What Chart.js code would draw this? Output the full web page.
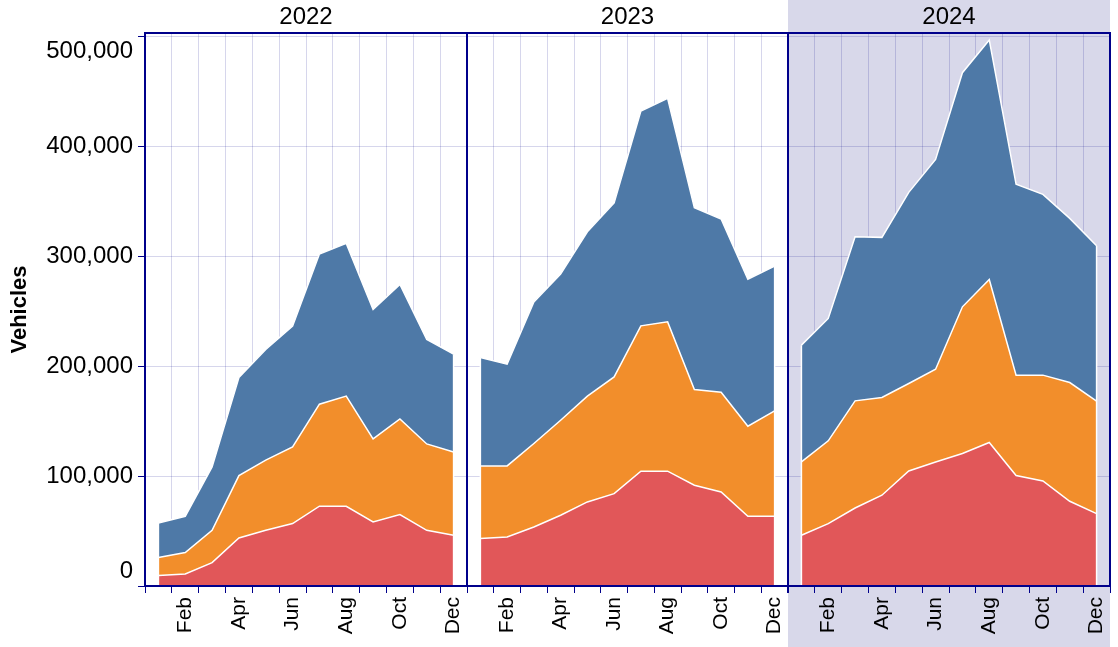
<!DOCTYPE html>
<html lang="en">
<head>
<meta charset="UTF-8" />
<title>Vehicles per month</title>
<script src="https://cdn.jsdelivr.net/npm/chart.js"></script>
<style>
  body { margin: 0; background: #fff; }
  #wrap { position: relative; width: 1118px; height: 647px; overflow: hidden; }
  #wrap canvas { position: absolute; top: 0; }
  #shade { position: absolute; left: 788px; top: 0; width: 322px; height: 647px; background: #d8d8ea; }
</style>
</head>
<body>
<div id="wrap">
  <div id="shade"></div>
  <canvas id="c2022" width="468" height="647" style="left:0"></canvas>
  <canvas id="c2023" width="323" height="647" style="left:466px"></canvas>
  <canvas id="c2024" width="325" height="647" style="left:787px"></canvas>
</div>

<script>
  const months = ['Jan', 'Feb', 'Mar', 'Apr', 'May', 'Jun', 'Jul', 'Aug', 'Sep', 'Oct', 'Nov', 'Dec'];
  const yTickValues = [0, 100000, 200000, 300000, 400000, 500000];
  const yTop = 503300;

  // monthly counts per layer, bottom to top
  const lower2022  = [9500, 10900, 21300, 43700, 50700, 56800, 72600, 72600, 58300, 65000, 50700, 46200];
  const middle2022 = [16400, 19500, 29400, 56800, 63800, 69800, 92900, 100200, 75600, 87100, 78600, 75800];
  const upper2022  = [31500, 33100, 57700, 89300, 100800, 109900, 136600, 139000, 117800, 122400, 95100, 89000];

  const lower2023  = [43200, 44600, 53700, 64400, 76500, 84100, 104500, 104500, 91700, 85600, 63500, 63500];
  const middle2023 = [66100, 64700, 76000, 86500, 96300, 106200, 132300, 135900, 87200, 90800, 81900, 95900];
  const upper2023  = [98700, 92600, 128900, 133000, 149600, 158500, 195500, 203500, 165300, 157600, 133900, 131700];

  const lower2024  = [46200, 56800, 71000, 82600, 104700, 112900, 120600, 130600, 100500, 95600, 77100, 65900];
  const middle2024 = [66700, 75300, 97500, 89000, 79600, 84400, 133500, 148400, 91400, 96300, 108100, 102300];
  const upper2024  = [106300, 111400, 149300, 145700, 174000, 191000, 213100, 218000, 173700, 164500, 149400, 141400];

  const NAVY = '#00008b';
  const GRID = 'rgba(0, 0, 139, 0.16)';
  const FONT = "'Liberation Sans', Arial, sans-serif";

  // dark blue box round each panel
  const framePlugin = {
    id: 'frame',
    afterDraw(chart) {
      const { ctx, chartArea: a } = chart;
      ctx.save();
      ctx.strokeStyle = NAVY;
      ctx.lineWidth = 2;
      ctx.strokeRect(a.left, a.top, a.right - a.left, a.bottom - a.top);
      ctx.restore();
    }
  };

  // white outline on the two vertical sides of the stack
  const edgePlugin = {
    id: 'edges',
    afterDatasetsDraw(chart) {
      const pts = chart.getDatasetMeta(chart.data.datasets.length - 1).data;
      const y0 = chart.scales.y.getPixelForValue(0);
      const ctx = chart.ctx;
      ctx.save();
      ctx.strokeStyle = '#ffffff';
      ctx.lineWidth = 1.5;
      ctx.beginPath();
      [pts[0], pts[pts.length - 1]].forEach(p => {
        ctx.moveTo(p.x, y0);
        ctx.lineTo(p.x, p.y);
      });
      ctx.stroke();
      ctx.restore();
    }
  };

  function layer(label, data, color, fill) {
    return {
      label, data, fill,
      backgroundColor: color,
      borderColor: '#ffffff',
      borderWidth: 1.5,
      pointRadius: 0,
      tension: 0
    };
  }

  function yLabel(value) {
    const txt = value.toLocaleString('en-US');
    // first and last labels sit inside the axis range
    if (value === yTickValues[0]) return [txt, ''];
    if (value === yTickValues[yTickValues.length - 1]) return ['', txt];
    return txt;
  }

  function makePanel(id, year, lower, middle, upper, showY, padLeft, padRight) {
    return new Chart(document.getElementById(id), {
      type: 'line',
      data: {
        labels: months,
        datasets: [
          layer('Lower', lower, '#e15759', 'origin'),
          layer('Middle', middle, '#f28e2b', '-1'),
          layer('Upper', upper, '#4e79a7', '-1')
        ]
      },
      options: {
        responsive: false,
        animation: false,
        layout: { padding: { left: padLeft, right: padRight, top: 0, bottom: 0 } },
        plugins: {
          legend: { display: false },
          tooltip: { enabled: false },
          title: {
            display: true,
            text: year,
            fullSize: false,
            color: '#000',
            font: { family: FONT, size: 24, weight: 'normal' },
            padding: { top: 3, bottom: 1.2 }
          }
        },
        scales: {
          x: {
            offset: true,
            border: { display: false },
            grid: { offset: true, color: GRID, tickColor: NAVY, tickLength: 7 },
            ticks: {
              autoSkip: false,
              minRotation: 90,
              maxRotation: 90,
              padding: 4,
              color: '#000',
              font: { family: FONT, size: 21 },
              callback: (v, i) => (i % 2 ? months[i] : '')
            },
            afterFit: s => { s.height = 61; s.paddingLeft = 0; s.paddingRight = 0; }
          },
          y: {
            stacked: true,
            min: 0,
            max: yTop,
            border: { display: false },
            grid: { color: GRID, tickColor: NAVY, tickLength: 7, drawTicks: showY },
            ticks: {
              display: showY,
              padding: 5,
              color: '#000',
              font: { family: FONT, size: 24 },
              callback: yLabel
            },
            afterBuildTicks: s => { s.ticks = yTickValues.map(v => ({ value: v })); },
            title: {
              display: showY,
              text: 'Vehicles',
              color: '#000',
              font: { family: FONT, size: 22, weight: 'bold' },
              padding: { top: 7, bottom: 0 }
            },
            afterFit: s => { s.width = showY ? 145 : 0; s.paddingTop = 0; s.paddingBottom = 0; }
          }
        }
      },
      plugins: [framePlugin, edgePlugin]
    });
  }

  makePanel('c2022', '2022', lower2022, middle2022, upper2022, true, 0, 1);
  makePanel('c2023', '2023', lower2023, middle2023, upper2023, false, 1, 1);
  makePanel('c2024', '2024', lower2024, middle2024, upper2024, false, 1, 2);
</script>
</body>
</html>
